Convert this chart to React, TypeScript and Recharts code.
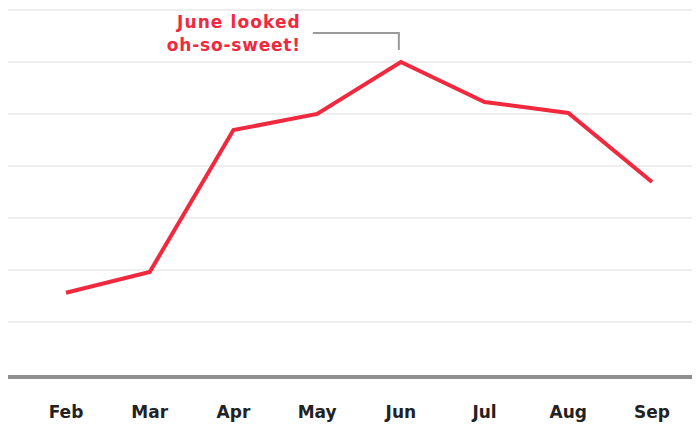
import React from "react";
import { LineChart, Line, XAxis, YAxis, CartesianGrid, ReferenceDot } from "recharts";

const months = ["Feb", "Mar", "Apr", "May", "Jun", "Jul", "Aug", "Sep"];
const sweetness = [15.6, 19.6, 46.9, 50, 60, 52.3, 50.2, 36.9];
const gridTicks = [10, 20, 30, 40, 50, 60, 70];
const calloutMonth = "Jun";
const calloutLines = ["June looked", "oh-so-sweet!"];

const data = months.map((m, i) => ({ month: m, value: sweetness[i] }));
const calloutValue = sweetness[months.indexOf(calloutMonth)];

const RED = "#f0293e";
const FONT = "'DejaVu Sans', sans-serif";

const Callout = (props: any) => {
  const { cx, cy } = props;
  if (cx == null || cy == null) return null;
  const barY = cy - 29;
  return (
    <g>
      <polyline
        points={`${cx - 88},${barY} ${cx - 2},${barY} ${cx - 2},${cy - 12}`}
        fill="none"
        stroke="#9a9a9a"
        strokeWidth={2}
      />
      <text
        x={cx - 100}
        y={cy - 34}
        textAnchor="end"
        fill={RED}
        fontFamily={FONT}
        fontWeight="bold"
        fontSize={17}
        letterSpacing={1.1}
      >
        {calloutLines[0]}
      </text>
      <text
        x={cx - 100}
        y={cy - 11}
        textAnchor="end"
        fill={RED}
        fontFamily={FONT}
        fontWeight="bold"
        fontSize={17}
        letterSpacing={0.8}
      >
        {calloutLines[1]}
      </text>
    </g>
  );
};

export default function App() {
  return (
    <LineChart
      width={700}
      height={417}
      data={data}
      margin={{ top: 2, right: 0, bottom: 0, left: 0 }}
    >
      <CartesianGrid vertical={false} stroke="#e8e8e8" strokeWidth={1.5} />
      <XAxis
        dataKey="month"
        padding={{ left: 58, right: 56 }}
        axisLine={{ stroke: "#8f8f8f", strokeWidth: 4 }}
        tickLine={false}
        tickMargin={23}
        height={48}
        tick={{ fill: "#222", fontFamily: FONT, fontWeight: "bold", fontSize: 17 }}
      />
      <YAxis hide domain={[-0.6, 70]} ticks={gridTicks} />
      <Line
        type="linear"
        dataKey="value"
        stroke={RED}
        strokeWidth={4}
        dot={false}
        isAnimationActive={false}
      />
      <ReferenceDot x={calloutMonth} y={calloutValue} r={0} shape={Callout} />
    </LineChart>
  );
}
